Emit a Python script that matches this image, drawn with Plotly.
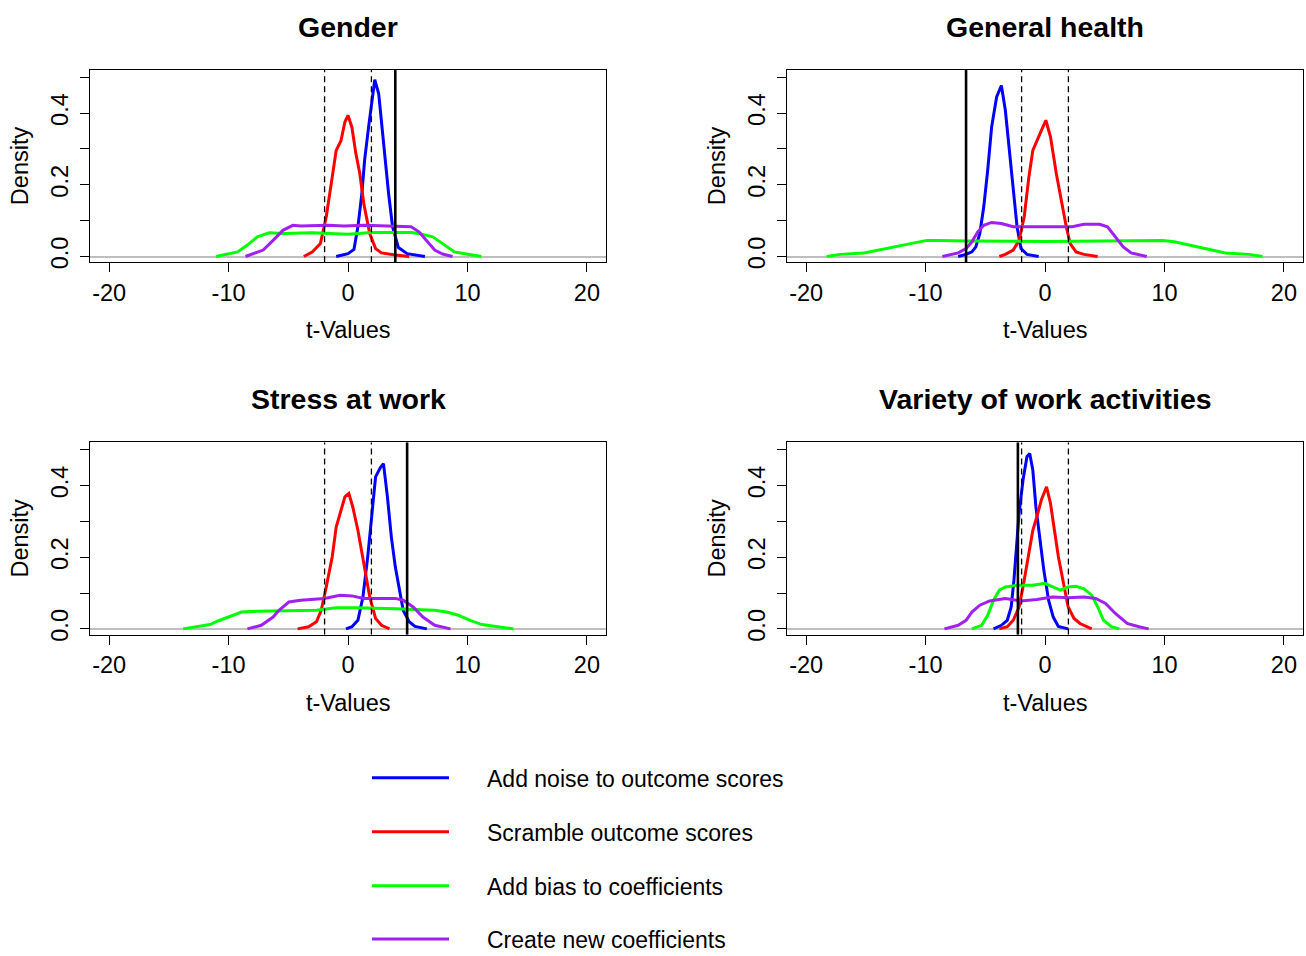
import plotly.graph_objects as go

W, H = 1306, 956
Y_CORR = 964.0 / 956.0  # compensates the slight vertical squeeze seen in the rendered page

panel_titles = ["Gender", "General health", "Stress at work", "Variety of work activities"]
series_names = ["Add noise to outcome scores", "Scramble outcome scores",
                "Add bias to coefficients", "Create new coefficients"]
series_colors = ["#0000FF", "#FF0000", "#00FF00", "#A020F0"]

x_ticks = [-20, -10, 0, 10, 20]
y_ticks = [0.0, 0.1, 0.2, 0.3, 0.4, 0.5]
y_tick_labels = ["0.0", "", "0.2", "", "0.4", ""]

crit_t = 1.96
observed_t = [3.96, -6.61, 4.95, -2.27]

# ---- Gender ----
gender_noise_x = [-0.99, 0.0, 0.5, 0.83, 1.16, 1.39, 1.72, 2.05, 2.24, 2.57, 2.84, 3.14, 3.40, 3.73, 4.22, 4.95, 6.44]
gender_noise_y = [0, 0.008, 0.02, 0.083, 0.175, 0.268, 0.36, 0.454, 0.493, 0.454, 0.36, 0.268, 0.175, 0.083, 0.025, 0.008, 0]
gender_scramble_x = [-3.70, -2.97, -2.31, -1.82, -1.32, -0.99, -0.59, -0.26, 0.0, 0.33, 0.66, 0.99, 1.32, 1.82, 2.31, 2.81, 3.96, 5.12]
gender_scramble_y = [0, 0.013, 0.036, 0.111, 0.222, 0.296, 0.323, 0.375, 0.394, 0.36, 0.287, 0.231, 0.148, 0.064, 0.022, 0.010, 0.004, 0]
gender_bias_x = [-11.06, -9.90, -9.24, -8.42, -7.59, -6.60, -5.45, -3.0, -1.98, 0.0, 1.98, 5.28, 5.94, 7.10, 7.92, 8.91, 9.90, 11.16]
gender_bias_y = [0, 0.008, 0.013, 0.032, 0.055, 0.066, 0.064, 0.066, 0.064, 0.062, 0.067, 0.067, 0.064, 0.055, 0.036, 0.013, 0.007, 0]
gender_new_x = [-8.58, -7.92, -7.10, -6.27, -5.45, -4.62, -3.96, -1.65, -0.33, 1.32, 3.96, 5.28, 5.94, 6.60, 7.26, 7.92, 8.75]
gender_new_y = [0, 0.008, 0.018, 0.045, 0.073, 0.087, 0.085, 0.087, 0.085, 0.087, 0.085, 0.083, 0.069, 0.045, 0.018, 0.007, 0]

# ---- General health ----
health_noise_x = [-7.27, -6.61, -6.12, -5.79, -5.46, -5.13, -4.80, -4.47, -4.05, -3.65, -3.32, -2.99, -2.66, -2.34, -2.01, -1.51, -0.53]
health_noise_y = [0, 0.006, 0.013, 0.027, 0.064, 0.138, 0.240, 0.361, 0.445, 0.477, 0.408, 0.296, 0.175, 0.083, 0.022, 0.006, 0]
health_scramble_x = [-3.82, -3.32, -2.66, -2.17, -1.74, -1.35, -1.02, -0.69, -0.30, 0.07, 0.46, 0.95, 1.45, 1.78, 2.11, 2.60, 3.26, 4.41]
health_scramble_y = [0, 0.006, 0.018, 0.045, 0.111, 0.222, 0.296, 0.324, 0.352, 0.380, 0.334, 0.231, 0.138, 0.083, 0.036, 0.013, 0.006, 0]
health_bias_x = [-18.29, -17.14, -15.16, -13.85, -12.53, -11.22, -9.90, -8.91, -6.61, 0.0, 6.22, 6.55, 9.84, 10.82, 12.14, 13.78, 15.10, 17.07, 18.22]
health_bias_y = [0, 0.006, 0.010, 0.019, 0.029, 0.038, 0.045, 0.045, 0.043, 0.042, 0.043, 0.045, 0.045, 0.041, 0.032, 0.019, 0.010, 0.006, 0]
health_new_x = [-8.59, -7.27, -6.61, -6.12, -5.63, -5.13, -4.47, -3.65, -2.66, -1.35, -0.03, 1.28, 2.27, 3.26, 4.57, 5.23, 5.89, 6.55, 7.21, 8.52]
health_new_y = [0, 0.010, 0.022, 0.041, 0.069, 0.087, 0.095, 0.092, 0.083, 0.083, 0.085, 0.083, 0.083, 0.090, 0.090, 0.083, 0.055, 0.027, 0.010, 0]

# ---- Stress at work ----
stress_noise_x = [-0.17, 0.33, 0.83, 1.25, 1.65, 1.98, 2.31, 2.71, 2.97, 3.30, 3.63, 3.96, 4.29, 4.62, 5.12, 5.61, 6.60]
stress_noise_y = [0, 0.006, 0.024, 0.089, 0.201, 0.321, 0.424, 0.450, 0.461, 0.368, 0.256, 0.173, 0.108, 0.052, 0.020, 0.007, 0]
stress_scramble_x = [-4.22, -3.30, -2.64, -2.24, -1.82, -1.32, -0.99, -0.59, -0.26, 0.07, 0.40, 0.83, 1.16, 1.49, 1.82, 2.31, 2.81, 3.47]
stress_scramble_y = [0, 0.006, 0.020, 0.052, 0.117, 0.201, 0.284, 0.331, 0.368, 0.378, 0.340, 0.275, 0.210, 0.145, 0.089, 0.029, 0.010, 0]
stress_bias_x = [-13.80, -12.54, -11.55, -10.89, -9.90, -8.91, -7.59, -2.64, -0.99, 0.66, 3.96, 7.26, 8.25, 9.24, 10.23, 11.22, 12.54, 13.86]
stress_bias_y = [0, 0.006, 0.012, 0.022, 0.035, 0.047, 0.049, 0.052, 0.059, 0.059, 0.056, 0.052, 0.047, 0.038, 0.024, 0.012, 0.006, 0]
stress_new_x = [-8.42, -7.26, -6.27, -5.78, -4.95, -3.96, -1.98, -0.66, 0.33, 1.32, 3.96, 4.62, 5.45, 6.27, 7.26, 8.58]
stress_new_y = [0, 0.010, 0.033, 0.052, 0.075, 0.080, 0.085, 0.094, 0.092, 0.085, 0.085, 0.080, 0.061, 0.033, 0.010, 0]

# ---- Variety of work activities ----
variety_noise_x = [-4.31, -3.65, -3.16, -2.83, -2.60, -2.40, -2.17, -1.84, -1.51, -1.28, -1.02, -0.76, -0.43, -0.10, 0.30, 0.69, 1.12, 1.94]
variety_noise_y = [0, 0.010, 0.024, 0.061, 0.136, 0.229, 0.322, 0.415, 0.480, 0.489, 0.443, 0.340, 0.247, 0.164, 0.080, 0.033, 0.007, 0]
variety_scramble_x = [-3.82, -3.16, -2.66, -2.17, -1.84, -1.35, -1.02, -0.69, -0.30, 0.13, 0.46, 0.79, 1.12, 1.61, 1.94, 2.43, 2.93, 3.91]
variety_scramble_y = [0, 0.006, 0.024, 0.061, 0.117, 0.210, 0.275, 0.312, 0.360, 0.396, 0.350, 0.275, 0.201, 0.117, 0.061, 0.029, 0.015, 0]
variety_bias_x = [-6.12, -5.30, -4.80, -4.31, -3.82, -3.32, -2.34, -1.02, -0.03, 0.62, 1.28, 1.94, 2.60, 3.26, 3.91, 4.41, 4.90, 5.56, 6.22]
variety_bias_y = [0, 0.010, 0.038, 0.080, 0.108, 0.117, 0.122, 0.122, 0.127, 0.117, 0.108, 0.117, 0.119, 0.112, 0.094, 0.061, 0.024, 0.006, 0]
variety_new_x = [-8.42, -7.27, -6.61, -6.12, -5.46, -4.64, -3.32, -2.01, -0.69, 0.62, 1.94, 3.26, 4.24, 5.07, 5.89, 6.88, 7.86, 8.68]
variety_new_y = [0, 0.010, 0.024, 0.047, 0.066, 0.078, 0.085, 0.078, 0.082, 0.089, 0.087, 0.089, 0.085, 0.071, 0.043, 0.015, 0.006, 0]

panel_series = [
    [(gender_noise_x, gender_noise_y), (gender_scramble_x, gender_scramble_y),
     (gender_bias_x, gender_bias_y), (gender_new_x, gender_new_y)],
    [(health_noise_x, health_noise_y), (health_scramble_x, health_scramble_y),
     (health_bias_x, health_bias_y), (health_new_x, health_new_y)],
    [(stress_noise_x, stress_noise_y), (stress_scramble_x, stress_scramble_y),
     (stress_bias_x, stress_bias_y), (stress_new_x, stress_new_y)],
    [(variety_noise_x, variety_noise_y), (variety_scramble_x, variety_scramble_y),
     (variety_bias_x, variety_bias_y), (variety_new_x, variety_new_y)],
]

# ---- layout geometry (page pixels) ----
box_x = [(90, 606), (787, 1303), (90, 606), (787, 1303)]
box_y = [(70, 262), (70, 262), (442, 634), (442, 634)]
x_range = [-21.6, 21.6]
y_range = [-0.016, 0.52]

FONT = "Liberation Sans, Arial, sans-serif"
TICK_SIZE = 23.5
TITLE_SIZE = 28.5

def px_x(p):
    return p / W

def px_y(p):
    return 1 - (p * Y_CORR) / H

fig = go.Figure()
layout = dict(width=W, height=H, margin=dict(l=0, r=0, t=0, b=0),
              paper_bgcolor="white", plot_bgcolor="white", showlegend=False,
              font=dict(family=FONT, color="black"))
shapes = []
annotations = []

for i in range(4):
    n = "" if i == 0 else str(i + 1)
    xa, ya = "x" + n, "y" + n
    for (xs, ys), col, name in zip(panel_series[i], series_colors, series_names):
        fig.add_trace(go.Scatter(x=xs, y=ys, mode="lines", name=name,
                                 line=dict(color=col, width=3),
                                 xaxis=xa, yaxis=ya, hoverinfo="skip"))
    (x0, x1), (y0, y1) = box_x[i], box_y[i]
    layout["xaxis" + n] = dict(
        domain=[px_x(x0), px_x(x1)], range=x_range, anchor=ya,
        tickmode="array", tickvals=x_ticks, ticktext=[str(v) for v in x_ticks],
        ticks="outside", ticklen=9, tickwidth=1.2, tickcolor="black",
        showline=True, linecolor="black", linewidth=1.2, mirror=True,
        showgrid=False, zeroline=False,
        tickfont=dict(size=TICK_SIZE, family=FONT, color="black"))
    layout["yaxis" + n] = dict(
        domain=[px_y(y1), px_y(y0)], range=y_range, anchor=xa,
        tickmode="array", tickvals=y_ticks, ticktext=y_tick_labels, tickangle=-90,
        ticks="outside", ticklen=9, tickwidth=1.2, tickcolor="black",
        ticklabelstandoff=3,
        showline=True, linecolor="black", linewidth=1.2, mirror=True,
        showgrid=False, zeroline=True, zerolinecolor="#bebebe", zerolinewidth=1.5,
        tickfont=dict(size=TICK_SIZE, family=FONT, color="black"))
    for c in (-crit_t, crit_t):
        shapes.append(dict(type="line", xref=xa, yref=ya + " domain", x0=c, x1=c, y0=0, y1=1,
                           line=dict(color="black", width=1.3, dash="6px,4px")))
    shapes.append(dict(type="line", xref=xa, yref=ya + " domain",
                       x0=observed_t[i], x1=observed_t[i], y0=0, y1=1,
                       line=dict(color="black", width=2.6)))
    cx = (x0 + x1) / 2
    annotations.append(dict(text="<b>%s</b>" % panel_titles[i], x=px_x(cx), y=px_y(y0 - 43),
                            xref="paper", yref="paper", xanchor="center", yanchor="middle",
                            showarrow=False, font=dict(size=TITLE_SIZE, family=FONT, color="black")))
    annotations.append(dict(text="t-Values", x=px_x(cx), y=px_y(y1 + 68),
                            xref="paper", yref="paper", xanchor="center", yanchor="middle",
                            showarrow=False, font=dict(size=TICK_SIZE, family=FONT, color="black")))
    annotations.append(dict(text="Density", x=px_x(x0 - 70), y=px_y((y0 + y1) / 2),
                            xref="paper", yref="paper", xanchor="center", yanchor="middle",
                            textangle=-90, showarrow=False,
                            font=dict(size=TICK_SIZE, family=FONT, color="black")))

# ---- legend ----
legend_rows = [777, 831, 885, 938]
for yy, col, name in zip(legend_rows, series_colors, series_names):
    shapes.append(dict(type="line", xref="paper", yref="paper",
                       x0=px_x(372), x1=px_x(449), y0=px_y(yy), y1=px_y(yy),
                       line=dict(color=col, width=3)))
    annotations.append(dict(text=name, x=px_x(486), y=px_y(yy + 1), xref="paper", yref="paper",
                            xanchor="left", yanchor="middle", showarrow=False, borderpad=0,
                            font=dict(size=23, family=FONT, color="black")))

layout["shapes"] = shapes
layout["annotations"] = annotations
fig.update_layout(**layout)
# remove the default page margin so the 1306x956 figure fills the window exactly
fig.write_html("out.html", config={"displayModeBar": False},
               post_script="document.body.style.margin='0';document.body.style.overflow='hidden';")
